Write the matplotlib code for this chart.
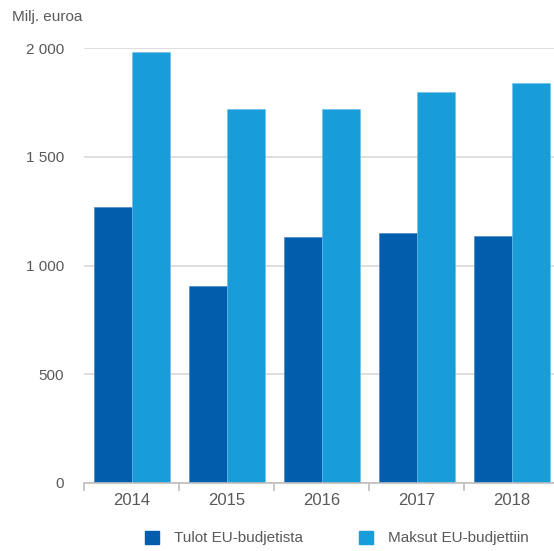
import matplotlib
matplotlib.use("Agg")
import matplotlib.pyplot as plt
import numpy as np
from matplotlib.patches import Patch

years = ["2014", "2015", "2016", "2017", "2018"]
tulot = [1271, 904, 1130, 1148, 1136]
maksut = [1984, 1719, 1719, 1799, 1840]
yticks = [0, 500, 1000, 1500, 2000]
ytick_labels = ["0", "500", "1 000", "1 500", "2 000"]
series_names = ["Tulot EU-budjetista", "Maksut EU-budjettiin"]

dark = "#005EAD"
light = "#189DD8"
txt = "#595959"
grid = "#d9d9d9"

plt.rcParams['font.family'] = ['Liberation Sans', 'DejaVu Sans']

W, H = 554, 551
fig = plt.figure(figsize=(W / 100, H / 100), dpi=100)
left, right, bottom, top = 84, 559.5, 482.7, 48.3
ax = fig.add_axes([left / W, 1 - bottom / H, (right - left) / W, (bottom - top) / H])

x = np.arange(len(years))
bw = 0.4
ax.bar(x - bw / 2, tulot, width=bw, color=dark, edgecolor="#3f7fc0", linewidth=0.4, zorder=3)
ax.bar(x + bw / 2, maksut, width=bw, color=light, edgecolor="#6cc0e8", linewidth=0.4, zorder=3)

ax.set_xlim(-0.5, len(years) - 0.5)
ax.set_ylim(0, 2000)
ax.set_yticks(yticks)
ax.set_yticklabels(ytick_labels)
ax.yaxis.grid(True, color=grid, linewidth=1.2, zorder=0)
ax.set_axisbelow(True)
for s in ["top", "right", "left"]:
    ax.spines[s].set_visible(False)
ax.spines["bottom"].set_color("#bfbfbf")
ax.spines["bottom"].set_linewidth(1.2)
ax.spines["bottom"].set_zorder(4)

ax.set_xticks(x)
ax.set_xticklabels(years)
ax.set_xticks(np.arange(-0.5, len(years), 1.0), minor=True)
ax.tick_params(axis="x", which="major", length=0, pad=7.5, labelsize=12, labelcolor=txt)
ax.tick_params(axis="x", which="minor", length=5.5, width=1.2, color="#bfbfbf")
ax.tick_params(axis="y", length=0, pad=14.5, labelsize=11, labelcolor=txt)

fig.text(12 / W, 1 - 17 / H, "Milj. euroa", fontsize=11, color=txt, va="center", ha="left")

handles = [Patch(facecolor=dark, edgecolor=dark), Patch(facecolor=light, edgecolor=light)]
fig.legend(handles, series_names, loc="center", bbox_to_anchor=(337 / W, 1 - 538 / H),
           ncol=2, frameon=False, fontsize=11, labelcolor=txt,
           handlelength=0.92, handleheight=0.92, handletextpad=0.96, columnspacing=3.7)

fig.savefig("out.png", dpi=100)
